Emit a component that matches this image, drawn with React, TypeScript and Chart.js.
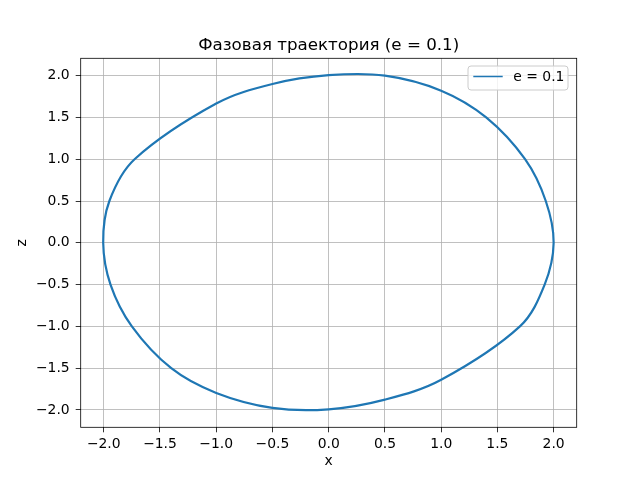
import { useEffect, useRef } from "react";
import { Chart, registerables } from "chart.js";

Chart.register(...registerables);

const chartTitle = "Фазовая траектория (e = 0.1)";
const seriesLabel = "e = 0.1";
const xAxisLabel = "x";
const yAxisLabel = "z";

// Closed phase trajectory (x, z) at grid-line crossings, clockwise from (2, 0)
const xValues = [
  2.0, 1.92, 1.7, 1.0, 0.5, 0.0, -0.5, -1.0, -1.4, -1.75, -1.94, -2.005, -1.95, -1.726, -1.0, -0.5,
  0.0, 0.5, 1.0, 1.4, 1.746, 1.93,
];
const zValues = [
  0.0, -0.5, -1.0, -1.639, -1.876, -1.992, -1.975, -1.796, -1.5, -1.0, -0.5, 0.0, 0.5, 1.0, 1.666,
  1.9, 2.005, 2.0, 1.82, 1.5, 1.0, 0.5,
];

const xTicks = [-2.0, -1.5, -1.0, -0.5, 0.0, 0.5, 1.0, 1.5, 2.0];
const yTicks = [-2.0, -1.5, -1.0, -0.5, 0.0, 0.5, 1.0, 1.5, 2.0];
const xLimits = [-2.205, 2.205];
const yLimits = [-2.207, 2.207];

const FONT = '"DejaVu Sans", sans-serif';

const fmt = (v: number | string) => {
  const n = Number(v);
  const s = Math.abs(n).toFixed(1);
  return n < -1e-9 ? "\u2212" + s : s;
};

// make the trajectory a closed, smooth loop
const closedLoop = {
  id: "closedLoop",
  afterDatasetsUpdate(chart: any) {
    const meta = chart.getDatasetMeta(0);
    const line = meta && meta.dataset;
    if (line) {
      line._loop = true;
      line._fullLoop = true;
      line._pointsUpdated = false;
      delete line._segments;
      delete line._path;
    }
  },
};

const overlay = {
  id: "overlay",
  afterDraw(chart: any) {
    const { ctx, chartArea: a } = chart;
    ctx.save();
    // frame (spines)
    ctx.strokeStyle = "#000";
    ctx.lineWidth = 0.8;
    ctx.strokeRect(a.left, a.top, a.right - a.left, a.bottom - a.top);

    // title
    ctx.fillStyle = "#000";
    ctx.font = `16.7px ${FONT}`;
    ctx.textAlign = "center";
    ctx.textBaseline = "alphabetic";
    ctx.fillText(chartTitle, (a.left + a.right) / 2, a.top - 8.3);

    // axis labels
    ctx.font = `13.9px ${FONT}`;
    ctx.textBaseline = "middle";
    ctx.fillText(xAxisLabel, (a.left + a.right) / 2, a.bottom + 34.4);
    ctx.save();
    ctx.translate(a.left - 58.7, (a.top + a.bottom) / 2);
    ctx.rotate(-Math.PI / 2);
    ctx.fillText(yAxisLabel, 0, 0);
    ctx.restore();

    // legend
    const bw = 100;
    const bh = 24;
    const bx = a.right - 8.7 - bw;
    const by = a.top + 7.7;
    const r = 3;
    ctx.beginPath();
    ctx.moveTo(bx + r, by);
    ctx.lineTo(bx + bw - r, by);
    ctx.quadraticCurveTo(bx + bw, by, bx + bw, by + r);
    ctx.lineTo(bx + bw, by + bh - r);
    ctx.quadraticCurveTo(bx + bw, by + bh, bx + bw - r, by + bh);
    ctx.lineTo(bx + r, by + bh);
    ctx.quadraticCurveTo(bx, by + bh, bx, by + bh - r);
    ctx.lineTo(bx, by + r);
    ctx.quadraticCurveTo(bx, by, bx + r, by);
    ctx.closePath();
    ctx.fillStyle = "rgba(255,255,255,0.8)";
    ctx.fill();
    ctx.strokeStyle = "#cccccc";
    ctx.lineWidth = 1;
    ctx.stroke();

    const ly = by + 10.5;
    ctx.beginPath();
    ctx.moveTo(bx + 5.3, ly);
    ctx.lineTo(bx + 34.7, ly);
    ctx.strokeStyle = "#1f77b4";
    ctx.lineWidth = 1.5;
    ctx.stroke();

    ctx.fillStyle = "#000";
    ctx.font = `13.9px ${FONT}`;
    ctx.textAlign = "left";
    ctx.textBaseline = "middle";
    ctx.fillText(seriesLabel, bx + 45.3, ly + 0.5);
    ctx.restore();
  },
};

const whiteBg = {
  id: "whiteBg",
  beforeDraw(chart: any) {
    const { ctx, width, height } = chart;
    ctx.save();
    ctx.fillStyle = "#fff";
    ctx.fillRect(0, 0, width, height);
    ctx.restore();
  },
};

export default function App() {
  const ref = useRef<HTMLCanvasElement | null>(null);

  useEffect(() => {
    if (!ref.current) return;
    const data = xValues.map((x, i) => ({ x, y: zValues[i] }));
    const tickFont = { family: FONT, size: 13.9 };
    const gridCfg = {
      color: "#b0b0b0",
      lineWidth: 0.8,
      tickLength: 5,
      tickColor: "#000",
      tickWidth: 0.8,
    };
    const chart = new Chart(ref.current, {
      type: "scatter",
      data: {
        datasets: [
          {
            label: seriesLabel,
            data,
            showLine: true,
            borderColor: "#1f77b4",
            backgroundColor: "#1f77b4",
            borderWidth: 2.2,
            pointRadius: 0,
            tension: 0.35,
            fill: false,
          },
        ],
      },
      options: {
        animation: false,
        responsive: false,
        maintainAspectRatio: false,
        layout: { padding: { left: 0, right: 63.3, top: 58.3, bottom: 0 } },
        plugins: {
          legend: { display: false },
          title: { display: false },
          tooltip: { enabled: false },
        },
        scales: {
          x: {
            type: "linear",
            min: xLimits[0],
            max: xLimits[1],
            afterBuildTicks: (s: any) => {
              s.ticks = xTicks.map((v) => ({ value: v }));
            },
            afterFit: (s: any) => {
              s.height = 52.7;
            },
            grid: gridCfg,
            border: { display: false },
            ticks: {
              padding: 4,
              color: "#000",
              font: tickFont,
              maxRotation: 0,
              autoSkip: false,
              callback: (v: any) => fmt(v),
            },
          },
          y: {
            type: "linear",
            min: yLimits[0],
            max: yLimits[1],
            afterBuildTicks: (s: any) => {
              s.ticks = yTicks.map((v) => ({ value: v }));
            },
            afterFit: (s: any) => {
              s.width = 80.7;
            },
            grid: gridCfg,
            border: { display: false },
            ticks: {
              padding: 6,
              color: "#000",
              font: tickFont,
              autoSkip: false,
              callback: (v: any) => fmt(v),
            },
          },
        },
      },
      plugins: [whiteBg, closedLoop, overlay],
    } as any);
    return () => chart.destroy();
  }, []);

  return (
    <div style={{ position: "absolute", left: 0, top: 0, width: 640, height: 480 }}>
      <canvas ref={ref} width={640} height={480} style={{ width: 640, height: 480, display: "block" }} />
    </div>
  );
}
